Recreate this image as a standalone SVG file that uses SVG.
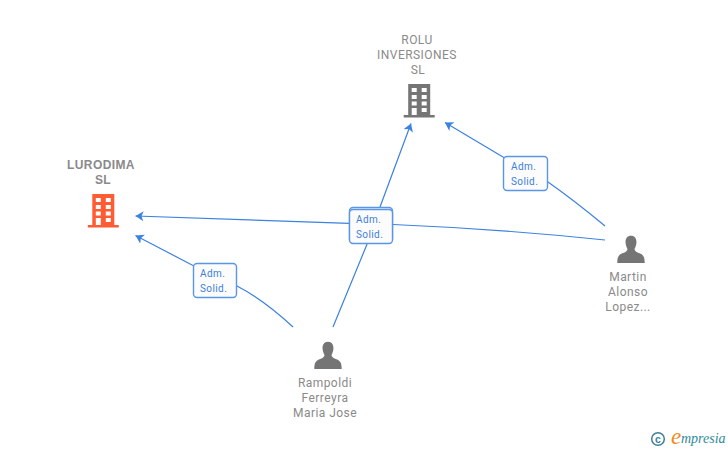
<svg xmlns="http://www.w3.org/2000/svg" width="728" height="450" viewBox="0 0 728 450">
<style>
.n{font-family:Roboto,"Liberation Sans",sans-serif;font-size:12px;fill:#8a8a8a;text-anchor:middle;letter-spacing:.45px}
.c{font-family:"Liberation Sans",Arial,sans-serif;font-size:12px;font-weight:700;fill:#8a8a8a;text-anchor:middle;letter-spacing:.4px}
.l{fill:none;stroke:#3c82e0;stroke-width:1.2}
.b{fill:#fcfcfc;stroke:#5a96e8;stroke-width:1.4}
.t{font-family:Roboto,"Liberation Sans",sans-serif;font-size:10px;fill:#3c7fdc;letter-spacing:.4px}
.w{fill:#fff}
</style>
<defs>
<marker id="a" markerUnits="userSpaceOnUse" markerWidth="10" markerHeight="12" refX="8" refY="5.500" orient="auto"><path d="M8 5.500L0 0.500L2 5.500L0 10.500Z" fill="#3c82e0"/></marker>
<g id="bld"><path d="M-11 -17H11V14H15.500V16.500H-15.500V14H-11Z"/><g class="w"><rect x="-7.500" y="-13" width="5" height="4"/><rect x="2.500" y="-13" width="5" height="4"/><rect x="-7.500" y="-6" width="5" height="4"/><rect x="2.500" y="-6" width="5" height="4"/><rect x="-7.500" y="0.500" width="5" height="4"/><rect x="2.500" y="0.500" width="5" height="4"/><rect x="-7.500" y="7" width="5" height="7"/><rect x="2.500" y="7" width="5" height="4"/></g></g>
<path id="per" d="M0 -14.300C4 -14.300 5.800 -11 5.400 -7C5.100 -4.300 4.200 -2.300 3.500 -1C3.500 1 5.500 2.200 8.500 3.300C12 4.600 13.700 6.500 13.700 13H-13.700C-13.700 6.500 -12 4.600 -8.500 3.300C-5.500 2.200 -3.500 1 -3.500 -1C-4.200 -2.300 -5.100 -4.300 -5.400 -7C-5.800 -11 -4 -14.300 0 -14.300Z"/>
</defs>
<g id="connectors">
<path class="l" marker-end="url(#a)" d="M293 327Q264 300 237 286L193 265.500L135.500 235.500"/>
<path class="l" marker-end="url(#a)" d="M605 240Q500 229 393 224.500L349 223.300Q240 220 135.500 216"/>
<path class="l" marker-end="url(#a)" d="M333 327L366.700 245L380 207L411 123.500"/>
<path class="l" marker-end="url(#a)" d="M605 226Q575 201 548 182L503 157L445 122.500"/>
</g>
<g id="label-1"><rect class="b" x="193.500" y="263.500" width="43" height="34" rx="3.500"/><text class="t" x="200" y="277">Adm.</text><text class="t" x="200" y="292">Solid.</text></g>
<g id="label-2"><rect class="b" x="503.500" y="156.500" width="44" height="34" rx="3.500"/><text class="t" x="511" y="170">Adm.</text><text class="t" x="511" y="185">Solid.</text></g>
<g id="label-3"><rect class="b" x="349.500" y="207.500" width="43" height="35" rx="3.500"/><rect class="b" x="349.500" y="209.500" width="43" height="34" rx="3.500"/><text class="t" x="356" y="223">Adm.</text><text class="t" x="356" y="238">Solid.</text></g>
<g id="lurodima"><text class="c" x="101" y="169">LURODIMA</text><text class="c" x="103" y="184">SL</text><use href="#bld" x="103.300" y="211" fill="#ff5c33"/></g>
<g id="rolu"><text class="n" x="417" y="44">ROLU</text><text class="n" x="417" y="59">INVERSIONES</text><text class="n" x="418" y="74">SL</text><use href="#bld" x="419.200" y="101" fill="#757575"/></g>
<g id="martin"><use href="#per" x="631" y="250" fill="#757575"/><text class="n" x="628" y="281">Martin</text><text class="n" x="628" y="296">Alonso</text><text class="n" x="628" y="311">Lopez...</text></g>
<g id="rampoldi"><use href="#per" x="328" y="356" fill="#757575"/><text class="n" x="325" y="387">Rampoldi</text><text class="n" x="325" y="402">Ferreyra</text><text class="n" x="325" y="417">Maria Jose</text></g>
<g id="logo"><circle cx="658" cy="439" r="6.300" fill="none" stroke="#3d7f98" stroke-width="1.500"/><text x="658" y="442.500" font-family="'Liberation Sans',sans-serif" font-size="10.500" font-weight="700" fill="#3d7f98" text-anchor="middle">c</text><text x="671" y="444" font-family="'Liberation Serif',serif" font-style="italic" font-size="23" fill="#f08a1c">e</text><text x="681" y="443" font-family="'Liberation Serif',serif" font-style="italic" font-size="14" fill="#2f8a9c">mpresia</text></g>
</svg>
